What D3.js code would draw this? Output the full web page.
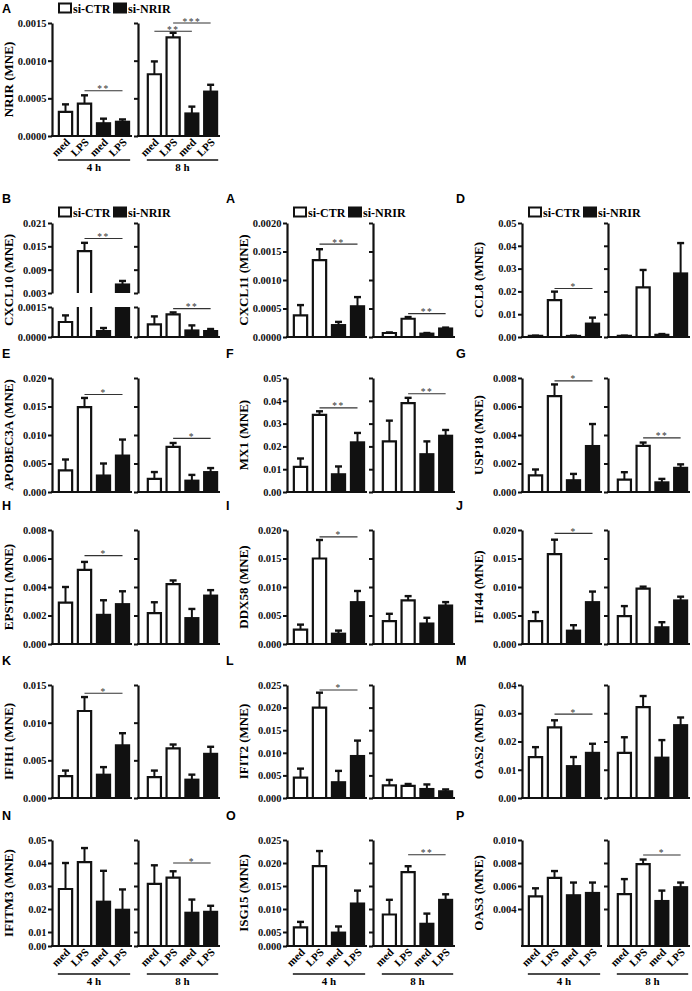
<!DOCTYPE html>
<html><head><meta charset="utf-8">
<script src="https://cdn.jsdelivr.net/npm/d3@7"></script>
<style>body{margin:0;background:#fff}svg{display:block}</style>
</head><body><svg id="c" width="692" height="991"></svg>
<script>
// ---------------- DATA ----------------
const barLabels = ["med", "LPS", "med", "LPS"];
const timeLabels = ["4 h", "8 h"];
const seriesNames = ["si-CTR", "si-NRIR"];
const barSeries = [0, 0, 1, 1];
const genes = ["NRIR","CXCL10","CXCL11","CCL8","APOBEC3A","MX1","USP18","EPSTI1","DDX58","IFI44","IFIH1","IFIT2","OAS2","IFITM3","ISG15","OAS3"];
const letters = ["A","B","A","D","E","F","G","H","I","J","K","L","M","N","O","P"];

// means / upper SEM ends: 4h [CTR med, CTR LPS, NRIR med, NRIR LPS], 8h [same]
const meanNRIR = [0.00032,0.00043,0.00017,0.00019, 0.00082,0.00131,0.00030,0.00059];
const errNRIR  = [0.00042,0.00054,0.00023,0.00022, 0.00099,0.00137,0.00039,0.00068];
const meanCXCL10 = [0.00075,0.01375,0.0003,0.0052, 0.00063,0.00113,0.00033,0.0003];
const errCXCL10  = [0.00108,0.0159,0.00045,0.0061, 0.00103,0.00123,0.00058,0.0004];
const meanCXCL11 = [0.00038,0.00135,0.00021,0.00054, 0.00007,0.00032,0.00006,0.00015];
const errCXCL11  = [0.00056,0.00154,0.000265,0.0007, 0.00008,0.00035,0.00007,0.000165];
const meanCCL8 = [0.0005,0.0162,0.0005,0.0059, 0.0005,0.0218,0.001,0.0279];
const errCCL8  = [0.0006,0.0199,0.0006,0.0085, 0.0006,0.0294,0.0013,0.0412];
const meanAPOBEC3A = [0.0038,0.0149,0.0029,0.0064, 0.0023,0.0079,0.002,0.0035];
const errAPOBEC3A  = [0.0057,0.0165,0.005,0.0092, 0.0035,0.0086,0.003,0.0042];
const meanMX1 = [0.011,0.0338,0.0078,0.0218, 0.0222,0.039,0.0166,0.0247];
const errMX1  = [0.0147,0.0354,0.0112,0.0259, 0.0313,0.0413,0.0222,0.0272];
const meanUSP18 = [0.00116,0.00673,0.00083,0.00323, 0.00087,0.00323,0.00068,0.0017];
const errUSP18  = [0.00158,0.00755,0.00127,0.00477, 0.00139,0.00347,0.00092,0.00194];
const meanEPSTI1 = [0.0029,0.0052,0.00205,0.0028, 0.00217,0.0042,0.00182,0.0034];
const errEPSTI1  = [0.004,0.00576,0.00307,0.0037, 0.00293,0.00446,0.00246,0.00378];
const meanDDX58 = [0.00253,0.015,0.00182,0.00735, 0.004,0.00765,0.0036,0.00676];
const errDDX58  = [0.0034,0.01825,0.00235,0.0093, 0.0053,0.0084,0.0046,0.00735];
const meanIFI44 = [0.004,0.01576,0.00235,0.00735, 0.00488,0.0097,0.00294,0.00765];
const errIFI44  = [0.0056,0.0183,0.0033,0.0092, 0.00665,0.01006,0.00382,0.0083];
const meanIFIH1 = [0.0029,0.01155,0.0031,0.007, 0.00276,0.00658,0.00244,0.00587];
const errIFIH1  = [0.00364,0.0134,0.0041,0.0086, 0.00364,0.0071,0.0031,0.0068];
const meanIFIT2 = [0.0045,0.020,0.0035,0.0093, 0.0028,0.0027,0.002,0.0015];
const errIFIT2  = [0.0065,0.0233,0.006,0.0127, 0.004,0.0031,0.003,0.0019];
const meanOAS2 = [0.0145,0.025,0.0113,0.016, 0.016,0.0322,0.0143,0.0258];
const errOAS2  = [0.018,0.0275,0.0145,0.0192, 0.0215,0.0361,0.0205,0.0285];
const meanIFITM3 = [0.0287,0.0404,0.0232,0.0197, 0.0309,0.0336,0.0184,0.0188];
const errIFITM3  = [0.040,0.0465,0.0366,0.0285, 0.039,0.0364,0.0241,0.0214];
const meanISG15 = [0.006,0.0193,0.0048,0.0112, 0.0088,0.018,0.0068,0.012];
const errISG15  = [0.0072,0.0226,0.0062,0.014, 0.012,0.0193,0.009,0.0132];
const meanOAS3 = [0.0051,0.0067,0.0052,0.0054, 0.0053,0.0079,0.0047,0.0059];
const errOAS3  = [0.0058,0.0073,0.0063,0.0063, 0.0066,0.0083,0.0056,0.0063];

// significance brackets: [time group, from bar, to bar, value, label]
const sigNRIR = [[0,1,3,0.0006,"**"],[1,0,2,0.00139,"**"],[1,1,3,0.0015,"***"]];
const sigCXCL10 = [[0,1,3,0.017,"**"],[1,1,3,0.00142,"**"]];
const sigCXCL11 = [[0,1,3,0.00163,"**"],[1,1,3,0.00041,"**"]];
const sigCCL8 = [[0,1,3,0.0213,"*"]];
const sigAPOBEC3A = [[0,1,3,0.0171,"*"],[1,1,3,0.0094,"*"]];
const sigMX1 = [[0,1,3,0.0369,"**"],[1,1,3,0.0431,"**"]];
const sigUSP18 = [[0,1,3,0.0078,"*"],[1,1,3,0.0038,"**"]];
const sigEPSTI1 = [[0,1,3,0.0062,"*"]];
const sigDDX58 = [[0,1,3,0.0188,"*"]];
const sigIFI44 = [[0,1,3,0.0194,"*"]];
const sigIFIH1 = [[0,1,3,0.0139,"*"]];
const sigIFIT2 = [[0,1,3,0.0239,"*"]];
const sigOAS2 = [[0,1,3,0.0297,"*"]];
const sigIFITM3 = [[1,1,3,0.040,"*"]];
const sigISG15 = [[1,1,3,0.0218,"**"]];
const sigOAS3 = [[1,1,3,0.0087,"*"]];

// tick values
const ticksNRIR = [0,0.0005,0.0010,0.0015];
const ticksCXCL10low = [0,0.0015];
const ticksCXCL10high = [0.003,0.009,0.015,0.021];
const ticksCXCL11 = [0,0.0005,0.0010,0.0015,0.0020];
const ticksCCL8 = [0,0.01,0.02,0.03,0.04,0.05];
const ticksAPOBEC3A = [0,0.005,0.010,0.015,0.020];
const ticksMX1 = [0,0.01,0.02,0.03,0.04,0.05];
const ticksUSP18 = [0,0.002,0.004,0.006,0.008];
const ticksEPSTI1 = [0,0.002,0.004,0.006,0.008];
const ticksDDX58 = [0,0.005,0.010,0.015,0.020];
const ticksIFI44 = [0,0.005,0.010,0.015,0.020];
const ticksIFIH1 = [0,0.005,0.010,0.015];
const ticksIFIT2 = [0,0.005,0.010,0.015,0.020,0.025];
const ticksOAS2 = [0,0.01,0.02,0.03,0.04];
const ticksIFITM3 = [0,0.01,0.02,0.03,0.04,0.05];
const ticksISG15 = [0,0.005,0.010,0.015,0.020,0.025];
const ticksOAS3 = [0.004,0.006,0.008,0.010];

// ---------------- LAYOUT ----------------
const SERIF = "'Liberation Serif','Times New Roman',serif";
const SANS = "'Liberation Sans',Arial,sans-serif";
const colX = [52, 287, 522];
const letterX = [2, 226, 456];
const rowY = [[23,136],[223,337],[378,492],[530,644],[685,798],[840,946]];

const dataMap = {
  NRIR:[meanNRIR,errNRIR,sigNRIR], CXCL10:[meanCXCL10,errCXCL10,sigCXCL10], CXCL11:[meanCXCL11,errCXCL11,sigCXCL11],
  CCL8:[meanCCL8,errCCL8,sigCCL8], APOBEC3A:[meanAPOBEC3A,errAPOBEC3A,sigAPOBEC3A], MX1:[meanMX1,errMX1,sigMX1],
  USP18:[meanUSP18,errUSP18,sigUSP18], EPSTI1:[meanEPSTI1,errEPSTI1,sigEPSTI1], DDX58:[meanDDX58,errDDX58,sigDDX58],
  IFI44:[meanIFI44,errIFI44,sigIFI44], IFIH1:[meanIFIH1,errIFIH1,sigIFIH1], IFIT2:[meanIFIT2,errIFIT2,sigIFIT2],
  OAS2:[meanOAS2,errOAS2,sigOAS2], IFITM3:[meanIFITM3,errIFITM3,sigIFITM3], ISG15:[meanISG15,errISG15,sigISG15],
  OAS3:[meanOAS3,errOAS3,sigOAS3]
};
const tickMap = {
  NRIR:ticksNRIR, CXCL11:ticksCXCL11, CCL8:ticksCCL8, APOBEC3A:ticksAPOBEC3A, MX1:ticksMX1, USP18:ticksUSP18,
  EPSTI1:ticksEPSTI1, DDX58:ticksDDX58, IFI44:ticksIFI44, IFIH1:ticksIFIH1, IFIT2:ticksIFIT2, OAS2:ticksOAS2,
  IFITM3:ticksIFITM3, ISG15:ticksISG15, OAS3:ticksOAS3
};
function decimals(t){ return Math.max(...t.map(v=>{const q=String(v).split(".")[1];return q?q.length:0})); }

const svg = d3.select("#c");

function drawPanel(i){
  const gene = genes[i];
  const row = i === 0 ? 0 : Math.floor((i-1)/3) + 1;
  const col = i === 0 ? 0 : (i-1)%3;
  const X0 = colX[col];
  const [yT, yB] = rowY[row];
  const [mean, err, sig] = dataMap[gene];

  let segs;
  if (gene === "CXCL10") {
    segs = [
      {ticks: ticksCXCL10low, y: d3.scaleLinear().domain([0,0.0015]).range([yB, yB-30]), dec:4},
      {ticks: ticksCXCL10high, y: d3.scaleLinear().domain([0.003,0.021]).range([yB-44, yT]), dec:3}
    ];
  } else if (row === 5) {
    // bottom row: lowest tick interval is drawn shorter, as in the source figure
    const t = tickMap[gene];
    const step = t[1]-t[0];
    const n = t.length-1;
    const pitch = 23;
    const yFirst = yT + pitch*(n-1);
    let dom, rng;
    if (t[0] === 0) { dom = [0, t[1], t[n]]; rng = [yB, yFirst, yT]; }
    else { const yl = yT + pitch*n; dom = [0, t[0], t[n]]; rng = [yB, yl, yT]; }
    segs = [{ticks:t, y:d3.scaleLinear().domain(dom).range(rng), dec:decimals(t), bottom:0}];
  } else {
    const t = tickMap[gene];
    segs = [{ticks:t, y:d3.scaleLinear().domain([t[0], t[t.length-1]]).range([yB, yT]), dec:decimals(t)}];
  }
  const g = svg.append("g");

  g.append("text").attr("x", letterX[col]).attr("y", yT - (row===0?10:20))
    .attr("font-family", SANS).attr("font-weight","bold").attr("font-size",12.5).text(letters[i]);

  g.append("text").attr("transform", `translate(${X0-39.5},${(yT+yB)/2}) rotate(-90)`)
    .attr("text-anchor","middle").attr("font-family",SERIF).attr("font-weight","bold").attr("font-size",13)
    .text(gene + " (MNE)");

  for (let sub=0; sub<2; sub++){
    const ax = sub===0 ? X0 : X0+86;
    const xEnd = sub===0 ? X0+80 : X0+168;
    const xb = d3.scaleBand().domain([0,1,2,3]).range(sub===0?[ax+4, ax+80]:[ax+7, ax+82]).paddingInner(0.3).paddingOuter(0.15);
    const sg = g.append("g");
    segs.forEach(s=>{
      const a = d3.axisLeft(s.y).tickValues(s.ticks).tickSize(4).tickSizeOuter(0).tickPadding(1.5)
        .tickFormat(sub===0 ? d3.format("."+s.dec+"f") : "");
      const ag = sg.append("g").attr("transform",`translate(${ax},0)`).call(a);
      ag.select(".domain").attr("stroke-width",2.2).attr("stroke","#111");
      ag.selectAll(".tick line").attr("stroke-width",2).attr("stroke","#111");
      ag.selectAll(".tick text").attr("font-family",SERIF).attr("font-weight","bold").attr("font-size",10.5).attr("fill","#111");
    });
    sg.append("line").attr("x1",ax-1).attr("x2",xEnd).attr("y1",yB).attr("y2",yB).attr("stroke","#111").attr("stroke-width",2.2);

    for (let b=0; b<4; b++){
      const v = mean[sub*4+b], e = err[sub*4+b];
      const x = xb(b), w = xb.bandwidth(), cx = x + w/2;
      const filled = barSeries[b]===1;
      const es = segs.find(s => e >= s.y.domain()[0] && e <= s.y.domain()[s.y.domain().length-1]+1e-12) || segs[segs.length-1];
      const base = Math.max(v, es.y.domain()[0]);
      sg.append("line").attr("x1",cx).attr("x2",cx).attr("y1",es.y(base)).attr("y2",es.y(e)).attr("stroke","#111").attr("stroke-width",2);
      sg.append("line").attr("x1",cx-3.5).attr("x2",cx+3.5).attr("y1",es.y(e)).attr("y2",es.y(e)).attr("stroke","#111").attr("stroke-width",2.4);
      segs.forEach(s=>{
        const dm = s.y.domain();
        const d0 = dm[0], d1 = dm[dm.length-1];
        if (v <= d0) return;
        const top = Math.min(v,d1);
        const y0 = s.y(d0), y1 = s.y(top);
        const openTop = v > d1, openBot = d0 > 0;
        if (filled){
          sg.append("rect").attr("x",x-1).attr("y",y1-(openTop?0:1)).attr("width",w+2).attr("height",y0-y1+(openTop?0:1)).attr("fill","#111");
        } else {
          sg.append("rect").attr("x",x).attr("y",y1).attr("width",w).attr("height",y0-y1).attr("fill","#fff");
          const p = d3.path();
          p.moveTo(x, y0); p.lineTo(x, y1);
          if (!openTop) p.lineTo(x+w, y1); else p.moveTo(x+w, y1);
          p.lineTo(x+w, y0);
          if (!openBot) p.lineTo(x, y0);
          sg.append("path").attr("d",p.toString()).attr("fill","none").attr("stroke","#111").attr("stroke-width",2.2);
        }
      });
    }
    sig.filter(s=>s[0]===sub).forEach(([t,a,b2,val,lab])=>{
      const s = segs.find(s => val >= s.y.domain()[0] && val <= s.y.domain()[s.y.domain().length-1]+1e-12) || segs[segs.length-1];
      const yy = s.y(val);
      const x1 = xb(a)+xb.bandwidth()/2, x2 = xb(b2)+xb.bandwidth()/2;
      sg.append("line").attr("x1",x1).attr("x2",x2).attr("y1",yy).attr("y2",yy).attr("stroke","#333").attr("stroke-width",1.1);
      sg.append("text").attr("x",(x1+x2)/2).attr("y",yy+1.5).attr("text-anchor","middle")
        .attr("font-family",SERIF).attr("font-size",9.5).attr("letter-spacing",1.5).attr("fill","#333").text(lab);
    });
    if (row===0 || row===5){
      for (let b=0; b<4; b++){
        const cx = xb(b)+xb.bandwidth()/2;
        sg.append("text").attr("transform",`translate(${cx+5},${yB+7}) rotate(-45)`).attr("text-anchor","end")
          .attr("font-family",SERIF).attr("font-weight","bold").attr("font-size",11).text(barLabels[b]);
      }
      const gy = yB + (row===0 ? 24 : 28);
      sg.append("line").attr("x1",xb(0)-1).attr("x2",xb(3)+xb.bandwidth()+1).attr("y1",gy).attr("y2",gy).attr("stroke","#111").attr("stroke-width",1.5);
      sg.append("text").attr("x",(xb(0)+xb(3)+xb.bandwidth())/2).attr("y",gy+11).attr("text-anchor","middle")
        .attr("font-family",SERIF).attr("font-weight","bold").attr("font-size",11).text(timeLabels[sub]);
    }
  }
  if (i <= 3){
    const ly = row===0 ? 8 : yT - 11;
    g.append("rect").attr("x",X0+7).attr("y",ly-4.5).attr("width",12).attr("height",9).attr("fill","#fff").attr("stroke","#111").attr("stroke-width",2);
    g.append("text").attr("x",X0+21).attr("y",ly+4.5).attr("font-family",SERIF).attr("font-weight","bold").attr("font-size",12).text(seriesNames[0]);
    g.append("rect").attr("x",X0+61).attr("y",ly-5.5).attr("width",14).attr("height",11).attr("fill","#111");
    g.append("text").attr("x",X0+76).attr("y",ly+4.5).attr("font-family",SERIF).attr("font-weight","bold").attr("font-size",12).text(seriesNames[1]);
  }
}
genes.forEach((g,i)=>drawPanel(i));
</script></body></html>
